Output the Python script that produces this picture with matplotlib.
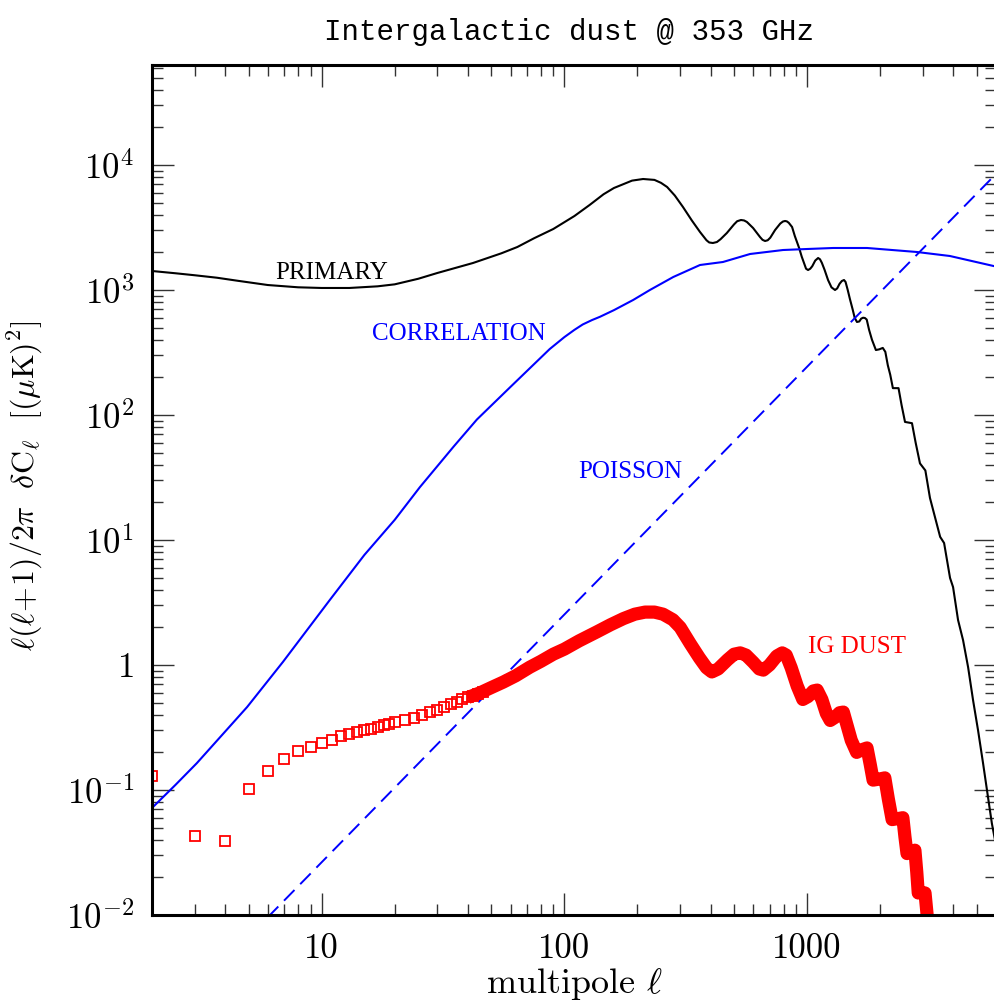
import matplotlib
matplotlib.use("Agg")
import matplotlib.pyplot as plt
from matplotlib.ticker import LogLocator, NullFormatter, FixedLocator, FixedFormatter

# ---------------- data ----------------
primary_l = [2, 2.5, 3, 3.7, 4.5, 6, 8, 10, 13, 17, 20, 25, 30, 42, 55, 64, 75, 90, 110,
             127, 145, 160, 190, 211, 235, 250, 265, 285, 308, 335, 362, 385, 395, 409,
             425, 440, 467, 500, 515, 534, 550, 565, 599, 640, 655, 671, 688, 705, 738,
             775, 795, 811, 825, 840, 867, 890, 927, 950, 990, 1009, 1030, 1050, 1080,
             1110, 1130, 1150, 1180, 1220, 1260, 1303, 1330, 1360, 1390, 1419, 1440,
             1470, 1500, 1540, 1570, 1604, 1640, 1670, 1700, 1730, 1760, 1800, 1850,
             1920, 1980, 2050, 2100, 2150, 2200, 2256, 2380, 2450, 2531, 2704, 2800,
             2917, 3070, 3207, 3532, 3667, 3880, 3993, 4186, 4390, 4605, 4829, 5061,
             5306, 5560, 5770, 5940, 6100]
primary_v = [1419, 1361, 1312, 1254, 1186, 1096, 1051, 1038, 1038, 1070, 1110, 1230, 1369,
             1644, 1966, 2208, 2594, 3076, 3908, 4786, 5834, 6546, 7500, 7727, 7600, 7200,
             6668, 5700, 4613, 3600, 2911, 2500, 2400, 2377, 2420, 2550, 2858, 3350, 3550,
             3631, 3600, 3500, 3133, 2650, 2520, 2466, 2500, 2620, 3020, 3400, 3530, 3565,
             3540, 3450, 3192, 2700, 2168, 1850, 1480, 1445, 1480, 1550, 1720, 1803, 1760,
             1650, 1450, 1200, 1050, 1000, 1030, 1120, 1180, 1202, 1160, 1000, 850, 700,
             600, 555, 560, 590, 600, 597, 580, 480, 400, 331, 335, 344, 320, 250, 210,
             164, 164, 120, 88, 86, 60, 41, 36, 21.7, 10.6, 9.46, 4.97, 4.2, 2.29, 1.58,
             0.96, 0.52, 0.30, 0.164, 0.088, 0.054, 0.04, 0.015]

corr_l = [2, 2.5, 3.06, 4, 4.93, 6.93, 10.8, 15, 20, 25.4, 35, 43.6, 60, 87, 100, 110, 119,
          130, 140, 160, 192, 225, 281, 362, 450, 582, 796, 1000, 1280, 1766, 2831, 3873,
          6000]
corr_v = [0.0718, 0.11, 0.164, 0.293, 0.461, 1.06, 3.31, 7.6, 14.5, 26.5, 56, 92, 168, 337,
          420, 480, 530, 575, 610, 690, 832, 1000, 1271, 1585, 1675, 1941, 2089, 2128,
          2168, 2168, 2014, 1871, 1540]

poisson_l = [6, 6000]
poisson_v = [0.0096, 8480]

# IG dust, individual points at low multipoles (drawn as open squares)
dust_low_l = [2, 3, 4, 5, 6, 7, 8, 9, 10, 11, 12, 13, 14, 15, 16, 17, 18, 19, 20,
              22, 24, 26, 28, 30, 32, 34, 36, 38, 40, 42, 44, 46]
dust_low_v = [0.129, 0.043, 0.039, 0.102, 0.142, 0.177, 0.205, 0.221, 0.238, 0.251,
              0.27, 0.28, 0.29, 0.30, 0.31, 0.32, 0.33, 0.34, 0.35, 0.365, 0.38, 0.40,
              0.42, 0.44, 0.46, 0.49, 0.51, 0.53, 0.55, 0.57, 0.59, 0.61]
# IG dust at higher multipoles (dense overlapping squares -> thick band)
dust_l = [40, 45, 50, 56, 63, 72, 80, 90, 100, 115, 136, 155, 175, 195, 215, 235, 255,
          280, 300, 330, 360, 385, 405, 430, 470, 500, 530, 560, 600, 635, 660, 700,
          750, 790, 820, 860, 910, 960, 1010, 1060, 1100, 1150, 1200, 1245, 1300, 1360,
          1410, 1460, 1520, 1600, 1680, 1765, 1820, 1870, 1970, 2090, 2160, 2240, 2360,
          2480, 2530, 2580, 2680, 2780, 2830, 2870, 2960, 3060, 3130]
dust_v = [0.55, 0.6, 0.66, 0.73, 0.82, 0.96, 1.07, 1.22, 1.34, 1.56, 1.84, 2.1, 2.35,
          2.55, 2.65, 2.65, 2.55, 2.3, 2.0, 1.48, 1.14, 0.95, 0.88, 0.93, 1.1, 1.22, 1.25,
          1.2, 1.05, 0.93, 0.91, 1.0, 1.18, 1.25, 1.2, 0.95, 0.68, 0.53, 0.56, 0.62, 0.63,
          0.53, 0.41, 0.36, 0.38, 0.415, 0.42, 0.33, 0.25, 0.2, 0.21, 0.217, 0.16, 0.12,
          0.122, 0.125, 0.085, 0.058, 0.059, 0.06, 0.042, 0.031, 0.032, 0.033, 0.022,
          0.015, 0.0152, 0.015, 0.0095]

xtick_vals = [10, 100, 1000]
xtick_labels = ["10", "100", "1000"]
ytick_vals = [1e-2, 1e-1, 1, 1e1, 1e2, 1e3, 1e4]
ytick_labels = [r"$10^{-2}$", r"$10^{-1}$", r"$1$", r"$10^{1}$", r"$10^{2}$",
                r"$10^{3}$", r"$10^{4}$"]

# ---------------- figure ----------------
plt.rcParams["mathtext.fontset"] = "cm"
plt.rcParams["font.family"] = ["cmr10", "DejaVu Serif"]
plt.rcParams["axes.formatter.use_mathtext"] = True

fig = plt.figure(figsize=(9.95, 10.05), dpi=100)
ax = fig.add_axes([152 / 995, 90 / 1005, 844 / 995, 850 / 1005])
ax.set_xscale("log")
ax.set_yscale("log")
ax.set_xlim(2, 6000)
ax.set_ylim(1e-2, 10 ** 4.8)

ax.plot(primary_l, primary_v, color="black", lw=1.5, solid_joinstyle="round")
ax.plot(corr_l, corr_v, color="#0000ff", lw=1.5, solid_joinstyle="round")
ax.plot(poisson_l, poisson_v, color="#0000ff", lw=1.4, dashes=(7.7, 4.2))
ax.plot(dust_low_l, dust_low_v, ls="none", marker="s", ms=7, mfc="none",
        mec="#ff0000", mew=1.3)
ax.plot(dust_l, dust_v, color="#ff0000", lw=9.5, solid_joinstyle="round",
        solid_capstyle="butt")

lab_font = dict(family="Liberation Serif", fontsize=18, va="baseline", ha="left")
ax.text(6.43, 1225, "PRIMARY", color="black", **lab_font)
ax.text(16.1, 398, "CORRELATION", color="#0000ff", **lab_font)
ax.text(113.8, 31.3, "POISSON", color="#0000ff", **lab_font)
ax.text(1009, 1.25, "IG DUST", color="#ff0000", **lab_font)

# ticks
ax.xaxis.set_major_locator(FixedLocator(xtick_vals))
ax.xaxis.set_major_formatter(FixedFormatter(xtick_labels))
ax.yaxis.set_major_locator(FixedLocator(ytick_vals))
ax.yaxis.set_major_formatter(FixedFormatter(ytick_labels))
for axis in (ax.xaxis, ax.yaxis):
    axis.set_minor_locator(LogLocator(base=10, subs=range(2, 10), numticks=50))
    axis.set_minor_formatter(NullFormatter())
ax.tick_params(which="both", direction="in", top=True, right=True,
               color="#333333", width=1.0)
ax.tick_params(which="major", length=15.5, labelsize=25, pad=13)
ax.tick_params(which="minor", length=8)
for t in ax.get_xticklabels() + ax.get_yticklabels():
    t.set_fontfamily("cmr10")
for s in ax.spines.values():
    s.set_linewidth(2.2)
    s.set_color("black")

ax.set_xlabel(r"multipole $\ell$", fontsize=26, family="cmr10")
ax.xaxis.set_label_coords(0.5, -0.06)
ax.set_ylabel(r"$\ell(\ell\!+\!1)/2\pi\ \ \delta\mathrm{C}_\ell\ \ [(\mu\mathrm{K})^2]$",
              fontsize=23)
ax.yaxis.set_label_coords(-0.127, 0.505)

fig.text(569 / 995, (1005 - 40) / 1005, "Intergalactic dust @ 353 GHz",
         family="Liberation Mono", fontsize=21, ha="center", va="baseline")

fig.savefig("out.png", dpi=100)
